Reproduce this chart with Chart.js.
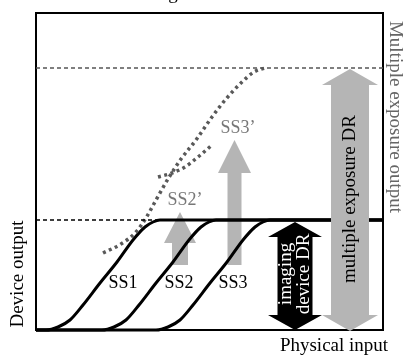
<!DOCTYPE html>
<html>
<head>
<meta charset="utf-8">
<script src="https://cdn.jsdelivr.net/npm/chart.js@4"></script>
<style>
  body { margin: 0; background: #fff; }
  #wrap { width: 406px; height: 355px; }
</style>
</head>
<body>
<div id="wrap"><canvas id="myChart" width="406" height="355"></canvas></div>
<script>
const ctx = document.getElementById('myChart').getContext('2d');

// response curves of the imaging device (shared output levels, shifted inputs)
const ssY = [0, 0, 3, 10, 25, 47, 68, 90, 103, 108, 110, 110];
const ss1X = [0, 10, 22, 34, 47, 64, 81, 97, 109, 117, 124, 347];
const ss2X = [0, 66, 78, 90, 103, 120, 137, 153, 165, 173, 180, 347];
const ss3X = [0, 120, 132, 144, 157, 174, 191, 207, 219, 227, 234, 347];

// combined (multiple exposure) curve, dotted
const multiX = [67, 85, 100, 110, 120, 132, 145, 160, 176, 190, 205, 218, 229];
const multiY = [77, 86, 98, 112, 130, 151, 171, 190, 213, 231, 247, 258, 262];
const ss2pX = [122, 136, 149, 162, 176];
const ss2pY = [153, 157, 163, 173, 185];

// saturation levels
const deviceMax = 110;
const multiMax = 262;
const deviceDashX = [0, 124];
const multiDashX = [0, 347];

// arrows: x, bottom, tip
const arrowX = [144, 198.5, 259, 314];
const arrowFrom = [65, 65, 0, -1];
const arrowTo = [118, 190, 108, 261];

// curve labels
const labelText = ['SS1', 'SS2', 'SS3', 'SS2\u2019', 'SS3\u2019'];
const labelX = [87, 143, 197, 149, 202];
const labelY = [47, 47, 47, 130, 202];

const pts = (xs, ys) => xs.map((x, i) => ({ x, y: Array.isArray(ys) ? ys[i] : ys }));
const SERIF = '"Liberation Serif", "Times New Roman", serif';

function drawArrow(c, chart, i, shaftW, headW, headL, both, color) {
  const cx = chart.scales.x.getPixelForValue(arrowX[i]);
  const y0 = chart.scales.y.getPixelForValue(arrowFrom[i]);
  const y1 = chart.scales.y.getPixelForValue(arrowTo[i]);
  c.beginPath();
  c.moveTo(cx, y1);
  c.lineTo(cx + headW / 2, y1 + headL);
  c.lineTo(cx + shaftW / 2, y1 + headL);
  if (both) {
    c.lineTo(cx + shaftW / 2, y0 - headL);
    c.lineTo(cx + headW / 2, y0 - headL);
    c.lineTo(cx, y0);
    c.lineTo(cx - headW / 2, y0 - headL);
    c.lineTo(cx - shaftW / 2, y0 - headL);
  } else {
    c.lineTo(cx + shaftW / 2, y0);
    c.lineTo(cx - shaftW / 2, y0);
  }
  c.lineTo(cx - shaftW / 2, y1 + headL);
  c.lineTo(cx - headW / 2, y1 + headL);
  c.closePath();
  c.fillStyle = color;
  c.fill();
}

function rotText(c, text, x, y, angle, color, size) {
  c.save();
  c.translate(x, y);
  c.rotate(angle);
  c.fillStyle = color;
  c.font = size + 'px ' + SERIF;
  c.textAlign = 'center';
  c.textBaseline = 'middle';
  c.fillText(text, 0, 0);
  c.restore();
}

const decor = {
  id: 'decor',
  beforeDatasetsDraw(chart) {
    const c = chart.ctx;
    const a = chart.chartArea;
    c.save();
    c.strokeStyle = '#000';
    c.lineWidth = 2;
    c.strokeRect(a.left, a.top, a.right - a.left, a.bottom - a.top);
    drawArrow(c, chart, 0, 16, 32, 31, false, '#b5b5b5');
    drawArrow(c, chart, 1, 14, 33, 33, false, '#b5b5b5');
    drawArrow(c, chart, 2, 35, 54, 15, true, '#000');
    c.restore();
  },
  afterDatasetsDraw(chart) {
    const c = chart.ctx;
    const sx = chart.scales.x;
    const sy = chart.scales.y;
    c.save();
    drawArrow(c, chart, 3, 38, 56, 16, true, '#b5b5b5');
    // labels of the curves
    c.font = '18px ' + SERIF;
    c.textAlign = 'center';
    c.textBaseline = 'middle';
    labelText.forEach((t, i) => {
      c.fillStyle = i < 3 ? '#000' : '#777';
      c.fillText(t, sx.getPixelForValue(labelX[i]), sy.getPixelForValue(labelY[i]));
    });
    // texts in the arrows
    const dx = sx.getPixelForValue(arrowX[2]);
    const dy = sy.getPixelForValue(56);
    rotText(c, 'imaging', dx - 9, dy, -Math.PI / 2, '#fff', 19);
    rotText(c, 'device DR', dx + 9, dy, -Math.PI / 2, '#fff', 19);
    rotText(c, 'multiple exposure DR', sx.getPixelForValue(arrowX[3]), sy.getPixelForValue(131), -Math.PI / 2, '#000', 19);
    // axis titles
    rotText(c, 'Device output', 18, 274, -Math.PI / 2, '#000', 19);
    rotText(c, 'Multiple exposure output', 395, 117, Math.PI / 2, '#666', 19);
    c.fillStyle = '#000';
    c.font = '19px ' + SERIF;
    c.textAlign = 'center';
    c.textBaseline = 'middle';
    c.fillText('Physical input', 334, 346);
    c.textBaseline = 'alphabetic';
    c.fillText('g', 173, -1);
    c.restore();
  },
};

const myChart = new Chart(ctx, {
  type: 'scatter',
  data: {
    datasets: [
      {
        label: 'multiple exposure max',
        data: pts(multiDashX, multiMax),
        borderColor: '#555',
        borderWidth: 1.5,
        borderDash: [4, 3],
      },
      {
        label: 'device max',
        data: pts(deviceDashX, deviceMax),
        borderColor: '#000',
        borderWidth: 1.5,
        borderDash: [4, 3],
      },
      {
        label: 'SS2\u2019',
        data: pts(ss2pX, ss2pY),
        borderColor: '#595959',
        borderWidth: 3.5,
        borderDash: [3, 3.5],
        cubicInterpolationMode: 'monotone',
      },
      {
        label: 'multiple exposure',
        data: pts(multiX, multiY),
        borderColor: '#595959',
        borderWidth: 3.5,
        borderDash: [3, 3.5],
        cubicInterpolationMode: 'monotone',
      },
      {
        label: 'SS1',
        data: pts(ss1X, ssY),
        borderColor: '#000',
        borderWidth: 3,
        cubicInterpolationMode: 'monotone',
      },
      {
        label: 'SS2',
        data: pts(ss2X, ssY),
        borderColor: '#000',
        borderWidth: 3,
        cubicInterpolationMode: 'monotone',
      },
      {
        label: 'SS3',
        data: pts(ss3X, ssY),
        borderColor: '#000',
        borderWidth: 3,
        cubicInterpolationMode: 'monotone',
      },
    ],
  },
  options: {
    responsive: false,
    animation: false,
    showLine: true,
    clip: false,
    elements: { point: { radius: 0, hoverRadius: 0 } },
    layout: { padding: { left: 36, right: 23, top: 13, bottom: 25 } },
    scales: {
      x: { type: 'linear', min: 0, max: 347, display: false },
      y: { type: 'linear', min: 0, max: 317, display: false },
    },
    plugins: {
      legend: { display: false },
      tooltip: { enabled: false },
    },
  },
  plugins: [decor],
});
</script>
</body>
</html>
